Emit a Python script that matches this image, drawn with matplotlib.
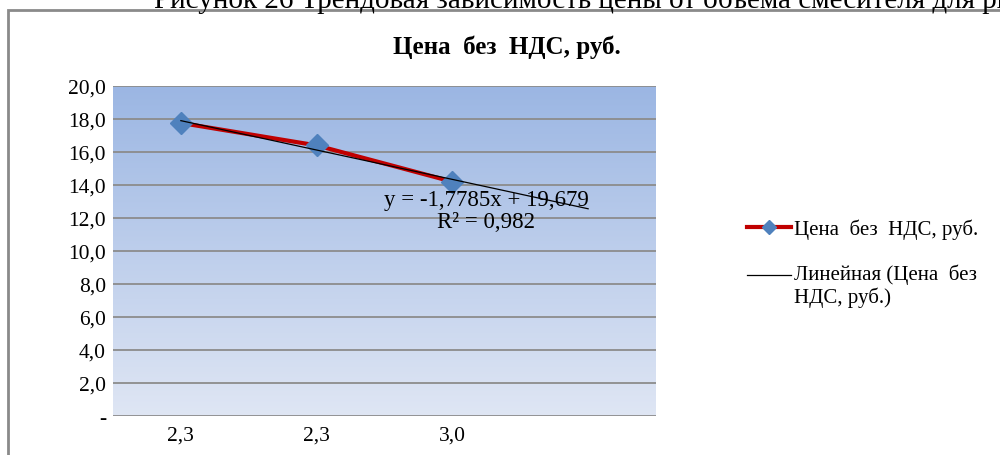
import numpy as np
import matplotlib
matplotlib.use('Agg')
import matplotlib.pyplot as plt
from matplotlib.patches import Rectangle
from matplotlib.lines import Line2D
from matplotlib.colors import LinearSegmentedColormap
from matplotlib.legend_handler import HandlerLine2D

plt.rcParams['font.family'] = ['Liberation Serif', 'DejaVu Serif']

# data
categories = ['2,3', '2,3', '3,0']
prices = [17.76, 16.40, 14.20]
y_ticks = [0, 2, 4, 6, 8, 10, 12, 14, 16, 18, 20]
y_labels = ['-', '2,0', '4,0', '6,0', '8,0', '10,0', '12,0', '14,0', '16,0', '18,0', '20,0']
series_name = 'Цена  без  НДС, руб.'
trend_name = 'Линейная (Цена  без\nНДС, руб.)'
eq_text = 'y = -1,7785x + 19,679\nR² = 0,982'
caption = 'Рисунок 26 Трендовая зависимость цены от объема смесителя для рынка'

red = '#c00000'
blue = '#4f81bd'


class UpperLine(HandlerLine2D):
    # put the trend line next to the first text line, not in the middle
    def create_artists(self, legend, orig_handle, xdescent, ydescent, width,
                       height, fontsize, trans):
        return super().create_artists(legend, orig_handle, xdescent, ydescent - 15,
                                      width, height, fontsize, trans)


x = np.arange(1, len(prices) + 1)
slope, icpt = np.polyfit(x, prices, 1)
x_tr = np.array([1, len(prices) + 1])   # forecast one period forward

fig = plt.figure(figsize=(10, 4.56), dpi=100)
ax = fig.add_axes([0.113, 0.0855, 0.543, 0.7237])

# chart frame and the caption cut off at the top
fig.patches.append(Rectangle((0.008, -0.1), 1.1, 1.076, transform=fig.transFigure,
                             fill=False, edgecolor='#8a8a8a', linewidth=2))
fig.text(0.154, 0.982, caption, fontsize=21, ha='left', va='baseline')

# gradient background of plot area
grad = LinearSegmentedColormap.from_list('bg', ['#dfe6f4', '#9bb6e3'])
ax.imshow(np.linspace(0, 1, 256).reshape(-1, 1), cmap=grad, aspect='auto',
          extent=[0.5, 4.5, 0, 20], origin='lower', zorder=0)

for t in y_ticks:
    ax.axhline(t, color='#8c8c8c', linewidth=1.3, zorder=1)

ax.plot(x, prices, color=red, linewidth=3, marker='D', markersize=11,
        markerfacecolor=blue, markeredgecolor=blue, zorder=3)
ax.plot(x_tr, slope * x_tr + icpt, color='black', linewidth=0.9, zorder=4)

ax.text(3.25, 12.45, eq_text, fontsize=16.5, ha='center', va='center',
        linespacing=1.05, zorder=5)

ax.set_xlim(0.5, 4.5)
ax.set_ylim(0, 20)
ax.set_xticks(x)
ax.set_xticklabels(categories)
ax.set_yticks(y_ticks)
ax.set_yticklabels(y_labels)
ax.tick_params(length=0, labelsize=15.5, pad=5)
ax.tick_params(axis='x', pad=7)
for s in ax.spines.values():
    s.set_visible(False)

fig.text(0.507, 1 - 47 / 456, 'Цена  без  НДС, руб.', fontsize=18,
         fontweight='bold', ha='center', va='center')

h_series = Line2D([], [], color=red, linewidth=3, marker='D', markersize=7,
                  markerfacecolor=blue, markeredgecolor=blue)
h_trend = Line2D([], [], color='black', linewidth=0.9)
fig.legend([h_series, h_trend], [series_name, trend_name],
           loc='upper left', bbox_to_anchor=(0.728, 1 - 201 / 456), frameon=False,
           fontsize=15, handlelength=2.1, handletextpad=0.15, labelspacing=1.15,
           handler_map={h_trend: UpperLine()})

fig.savefig('out.png', dpi=100)
